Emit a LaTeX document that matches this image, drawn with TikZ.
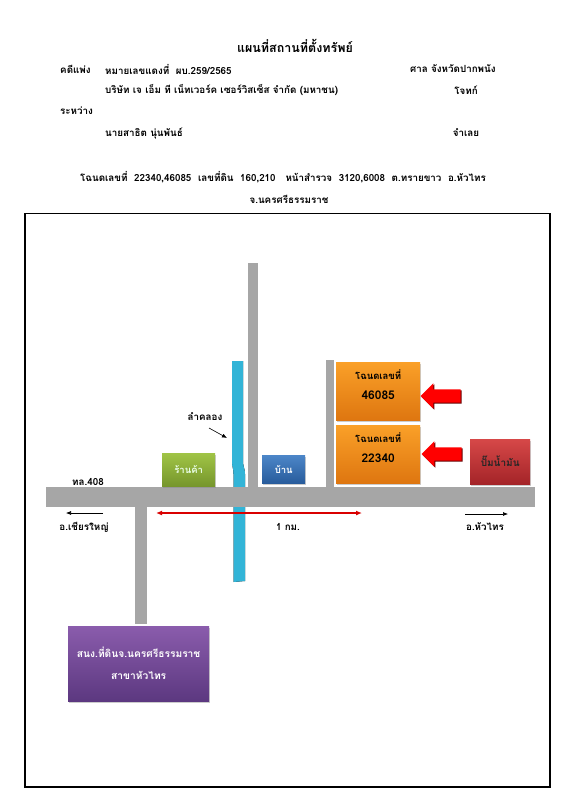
\documentclass[tikz,border=0pt]{standalone}
\usepackage{fontspec}
\setmainfont[Script=Thai]{Loma}
\usepackage{xcolor}
\usetikzlibrary{shapes.arrows, arrows.meta, positioning, calc, shadows}
\definecolor{RoadGray}{RGB}{166, 166, 166}
\definecolor{LotOrange}{RGB}{250, 160, 40}
\definecolor{LotOrangeDark}{RGB}{222, 118, 16}
\definecolor{ShopGreen}{RGB}{160, 196, 70}
\definecolor{ShopGreenDark}{RGB}{118, 150, 44}
\definecolor{HomeBlue}{RGB}{76, 134, 200}
\definecolor{HomeBlueDark}{RGB}{40, 92, 156}
\definecolor{PumpRed}{RGB}{214, 72, 72}
\definecolor{PumpRedDark}{RGB}{164, 36, 40}
\definecolor{OfficePurple}{RGB}{138, 92, 172}
\definecolor{OfficePurpleDark}{RGB}{92, 56, 128}
\definecolor{CanalBlue}{RGB}{50, 180, 215}
\definecolor{CanalLight}{RGB}{100, 225, 240}
\tikzset{
  headtext/.style={font=\fontsize{9.8}{12}\selectfont\bfseries, inner sep=0pt},
  softshadow/.style={drop shadow={opacity=0.4, shadow xshift=0.6pt, shadow yshift=-1.4pt}},
  lotbox/.style={anchor=north west, minimum width=84pt, minimum height=58pt, align=center, softshadow,
    top color=LotOrange, bottom color=LotOrangeDark,
    font=\fontsize{9.5}{20}\selectfont\bfseries, inner sep=0pt},
  placebox/.style={anchor=north west, align=center, inner sep=0pt, softshadow,
    font=\fontsize{9.5}{12}\selectfont\bfseries},
  pointer/.style={single arrow, shape border rotate=180, fill=red,
    drop shadow={fill=red!40!black, opacity=1, shadow xshift=1pt, shadow yshift=-1pt},
    minimum height=40pt, single arrow head extend=6pt, inner xsep=0pt, inner ysep=6.5pt},
  road/.style={fill=RoadGray},
  thinarrow/.style={-{Latex[length=5pt,width=4pt]}, line width=0.6pt, black},
}
\begin{document}
\begin{tikzpicture}[x=1pt, y=-1pt]
  \useasboundingbox (0,0) rectangle (575,800);
  \fill[white] (0,0) rectangle (575,800);

  \node[headtext, font=\fontsize{12.5}{14}\selectfont\bfseries] (title) at (295,46) {แผนที่สถานที่ตั้งทรัพย์};
  \node[headtext, anchor=west] (civil) at (60,69) {คดีแพ่ง};
  \node[headtext, anchor=west] (caseno) at (105,69) {หมายเลขแดงที่ \ ผบ.259/2565};
  \node[headtext, anchor=west] (court) at (410,69) {ศาล จังหวัดปากพนัง};
  \node[headtext, anchor=west] (company) at (105,90) {บริษัท เจ เอ็ม ที เน็ทเวอร์ค เซอร์วิสเซ็ส จำกัด (มหาชน)};
  \node[headtext] (plaintiff) at (466,90) {โจทก์};
  \node[headtext, anchor=west] (between) at (60,111) {ระหว่าง};
  \node[headtext, anchor=west] (person) at (105,133) {นายสาธิต นุ่นพันธ์};
  \node[headtext] (defendant) at (466,133) {จำเลย};
  \node[headtext] (deed) at (283,177) {โฉนดเลขที่ \ 22340,46085 \ เลขที่ดิน \ 160,210 \ \ หน้าสำรวจ \ 3120,6008 \ ต.ทรายขาว \ อ.หัวไทร};
  \node[headtext] (province) at (289,199) {จ.นครศรีธรรมราช};

  \draw[line width=1.5pt] (25,213.5) rectangle (550,787);

  \fill[left color=CanalBlue, middle color=CanalLight, right color=CanalBlue]
    (232,361) -- (243,361) -- (243,463) .. controls (243,467) and (245,468) .. (245,474)
    -- (245,581) -- (233.5,582) -- (233.5,474) .. controls (233.5,468) and (232,467) .. (232,463) -- cycle;

  \fill[road] (248,263) rectangle (258,488);
  \fill[road] (326,360) rectangle (334,488);
  \fill[road] (135,506) rectangle (147,624);
  \fill[road] (46,487) rectangle (535,507);

  \node[placebox, minimum width=53pt, minimum height=33pt, top color=ShopGreen, bottom color=ShopGreenDark, text=white!92!green] (shop) at (162,453) {ร้านค้า};
  \node[placebox, minimum width=43pt, minimum height=28pt, top color=HomeBlue, bottom color=HomeBlueDark, text=white] (home) at (262,455) {บ้าน};
  \node[lotbox] (lotb) at (336,362) {โฉนดเลขที่\\[0pt]{\fontsize{12}{14}\selectfont 46085}\\[-7pt]};
  \node[lotbox] (lota) at (336,425) {โฉนดเลขที่\\[0pt]{\fontsize{12}{14}\selectfont 22340}\\[-7pt]};
  \node[placebox, minimum width=60pt, minimum height=45pt, top color=PumpRed, bottom color=PumpRedDark, text=black!85,
        font=\fontsize{10}{12}\selectfont\bfseries] (pump) at (470,439) {ปั๊มน้ำมัน};
  \node[placebox, minimum width=141pt, minimum height=75pt, top color=OfficePurple, bottom color=OfficePurpleDark, text=white,
        font=\fontsize{10.2}{22}\selectfont\bfseries] (office) at (68,626) {สนง.ที่ดินจ.นครศรีธรรมราช\\สาขาหัวไทร};

  \node[pointer] (markb) at (444,396) {};
  \node[pointer] (marka) at (445,454) {};

  \node[headtext] (canal) at (205,417) {ลำคลอง};
  \coordinate (canalstart) at (209,428);
  \coordinate (canalend) at (227,438);
  \draw[thinarrow] (canalstart) -- (canalend);

  \node[headtext] (hwy) at (88,482) {ทล.408};
  \node[headtext] (west) at (84,527) {อ.เชียรใหญ่};
  \node[headtext] (dist) at (288,527) {1 กม.};
  \node[headtext] (east) at (485,527) {อ.หัวไทร};

  \coordinate (weststart) at (103,513);
  \coordinate (westend) at (66,513);
  \draw[thinarrow] (weststart) -- (westend);
  \coordinate (eaststart) at (465,514);
  \coordinate (eastend) at (508,514);
  \draw[thinarrow] (eaststart) -- (eastend);
  \coordinate (distleft) at (156,513);
  \coordinate (distright) at (362,513);
  \draw[{Latex[length=6pt,width=5pt]}-{Latex[length=6pt,width=5pt]}, red!85!black, line width=1.2pt] (distleft) -- (distright);
\end{tikzpicture}
\end{document}
